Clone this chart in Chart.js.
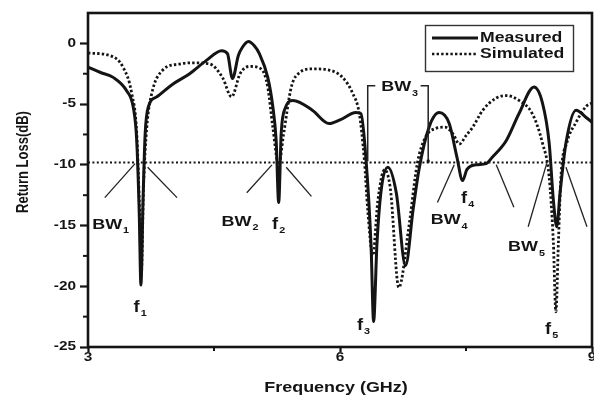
<!DOCTYPE html>
<html><head><meta charset="utf-8">
<script src="https://cdn.jsdelivr.net/npm/chart.js@4/dist/chart.umd.min.js"></script>
<style>html,body{margin:0;padding:0;background:#fff}#wrap{width:594px;height:396px}</style>
</head><body><div id="wrap"><canvas id="c" width="594" height="396"></canvas></div>
<script>
// ---- data ----
const measuredFreq = [3.00,3.15,3.30,3.46,3.54,3.58,3.61,3.63,3.655,3.68,3.72,3.82,4.00,4.21,4.41,4.59,4.66,4.72,4.79,4.84,4.91,4.98,5.04,5.14,5.20,5.24,5.27,5.30,5.35,5.44,5.67,5.87,6.00,6.19,6.25,6.31,6.37,6.40,6.44,6.49,6.57,6.67,6.78,6.87,6.94,7.06,7.18,7.30,7.39,7.46,7.51,7.62,7.74,7.81,7.98,8.13,8.31,8.41,8.49,8.54,8.58,8.62,8.69,8.81,8.93,9.00];
const measuredDb   = [-1.95,-2.4,-2.8,-3.9,-5.3,-8.0,-14,-19.9,-13,-7.5,-5.2,-4.4,-3.4,-2.5,-1.4,-0.6,-0.85,-2.9,-1.0,-0.3,0.15,-0.2,-0.85,-2.8,-5.2,-8.0,-13.1,-7.4,-5.3,-4.7,-5.5,-6.6,-6.3,-5.7,-5.8,-9.6,-16.7,-22.9,-16.5,-12.1,-10.2,-12.3,-18.3,-13.7,-10.4,-6.9,-5.7,-6.6,-9.3,-11.3,-10.4,-10.0,-9.9,-9.4,-8.0,-5.8,-3.6,-4.9,-8.2,-12.9,-15.1,-12.3,-8.2,-5.5,-6.1,-6.5];
const simulatedFreq = [3.00,3.26,3.42,3.52,3.58,3.615,3.635,3.66,3.70,3.76,3.89,4.09,4.25,4.45,4.60,4.71,4.81,4.92,5.06,5.14,5.20,5.27,5.33,5.42,5.52,5.67,5.87,6.03,6.15,6.23,6.29,6.33,6.39,6.45,6.53,6.60,6.70,6.82,6.92,7.02,7.14,7.25,7.35,7.42,7.50,7.58,7.70,7.86,7.98,8.13,8.29,8.41,8.49,8.54,8.57,8.60,8.63,8.70,8.81,8.93,9.00];
const simulatedDb   = [-0.8,-1.0,-2.0,-4.1,-7.4,-14,-19,-12,-6.9,-4.1,-2.2,-1.7,-1.6,-1.7,-2.8,-4.4,-2.5,-1.9,-2.1,-3.6,-6.9,-10.0,-7.4,-3.6,-2.4,-2.1,-2.2,-2.8,-4.1,-5.8,-9.6,-13.7,-17.5,-13.0,-10.4,-12.0,-20.1,-15.1,-9.9,-7.7,-7.0,-6.9,-7.5,-8.3,-7.6,-6.9,-5.5,-4.5,-4.3,-4.7,-5.8,-8.2,-11.0,-16.4,-22.1,-16.4,-11.0,-8.2,-6.5,-5.2,-4.9];
const refLevelDb = -9.8;
const seriesNames = ['Measured', 'Simulated'];
const xTickValues = [3, 6, 9];
const xTickLabels = ['3', '6', '9'];
const xMinorTicks = [4.5, 7.5];
const yTickValues = [0, -5, -10, -15, -20, -25];
const yTickLabels = ['0', '-5', '-10', '-15', '-20', '-25'];
const yMinorTicks = [-2.5, -7.5, -12.5, -17.5, -22.5];
const xTitle = 'Frequency (GHz)';
const yTitle = 'Return Loss(dB)';
// bandwidth pointer lines in data units: [f1, dB1, f2, dB2]
const bwLines = [
  [3.56,-9.9,3.20,-12.7],[3.71,-10.2,4.06,-12.7],
  [5.19,-10.0,4.89,-12.3],[5.36,-10.2,5.66,-12.6],
  [7.36,-10.0,7.16,-13.1],[7.86,-10.0,8.07,-13.5],
  [8.46,-9.9,8.24,-15.1],[8.69,-10.2,8.94,-15.1]
];
// BW3 bracket: left f, right f, top dB, bottom dB, gap f range for label
const bw3Bracket = [6.33, 7.05, -3.5, -9.7, 6.42, 6.96];
// annotation labels: main text, subscript, f, dB (group centre)
const annoText = ['BW','f','BW','f','BW','f','f','BW','BW','f'];
const annoSub  = ['1','1','2','2','3','3','4','4','5','5'];
const annoF    = [3.27,3.62,4.81,5.27,6.71,6.28,7.52,7.30,8.22,8.52];
const annoDb   = [-14.94,-21.75,-14.7,-14.9,-3.63,-23.2,-12.8,-14.55,-16.8,-23.55];

const INK = '#141414';
const FONT = '"Liberation Sans", Arial, sans-serif';
const STRETCH = 1.28;

function drawText(ctx, s, x, y, size, align, stretch) {
  ctx.save();
  ctx.font = 'bold ' + size + 'px ' + FONT;
  ctx.translate(x, y);
  ctx.scale(stretch, 1);
  ctx.textAlign = align;
  ctx.textBaseline = 'middle';
  ctx.fillStyle = INK;
  ctx.fillText(s, 0, 0);
  ctx.restore();
}
function textW(ctx, s, size, stretch) {
  ctx.save();
  ctx.font = 'bold ' + size + 'px ' + FONT;
  const w = ctx.measureText(s).width * stretch;
  ctx.restore();
  return w;
}

const decor = {
  id: 'decor',
  afterDatasetsDraw(chart) {
    const ctx = chart.ctx, xs = chart.scales.x, ys = chart.scales.y, a = chart.chartArea;
    const X = v => xs.getPixelForValue(v), Y = v => ys.getPixelForValue(v);
    ctx.save();
    // frame
    ctx.strokeStyle = INK; ctx.lineWidth = 2.6;
    ctx.strokeRect(a.left, a.top, a.right - a.left, a.bottom - a.top);
    // minor ticks
    ctx.lineWidth = 2;
    xMinorTicks.forEach(v => { ctx.beginPath(); ctx.moveTo(X(v), a.bottom); ctx.lineTo(X(v), a.bottom + 4); ctx.stroke(); });
    yMinorTicks.forEach(v => { ctx.beginPath(); ctx.moveTo(a.left, Y(v)); ctx.lineTo(a.left - 5, Y(v)); ctx.stroke(); });
    // tick labels
    xTickValues.forEach((v, i) => drawText(ctx, xTickLabels[i], X(v), a.bottom + 11, 12, 'center', STRETCH));
    yTickValues.forEach((v, i) => drawText(ctx, yTickLabels[i], a.left - 12, Y(v), 12, 'right', STRETCH));
    // axis titles
    drawText(ctx, xTitle, (a.left + a.right) / 2 - 4, 388, 14, 'center', STRETCH);
    ctx.save();
    ctx.translate(23, 162);
    ctx.scale(STRETCH, 1);
    ctx.rotate(-Math.PI / 2);
    ctx.font = 'bold 13px ' + FONT; ctx.fillStyle = INK;
    ctx.textAlign = 'center'; ctx.textBaseline = 'middle';
    ctx.fillText(yTitle, 0, 0);
    ctx.restore();
    // bandwidth pointer lines
    ctx.strokeStyle = '#222'; ctx.lineWidth = 1.3;
    bwLines.forEach(l => { ctx.beginPath(); ctx.moveTo(X(l[0]), Y(l[1])); ctx.lineTo(X(l[2]), Y(l[3])); ctx.stroke(); });
    // BW3 bracket
    const [bl, br, bt, bb, g1, g2] = bw3Bracket;
    ctx.lineWidth = 1.5;
    ctx.beginPath();
    ctx.moveTo(X(g1), Y(bt)); ctx.lineTo(X(bl), Y(bt)); ctx.lineTo(X(bl), Y(bb));
    ctx.moveTo(X(g2), Y(bt)); ctx.lineTo(X(br), Y(bt)); ctx.lineTo(X(br), Y(bb));
    ctx.stroke();
    ctx.fillStyle = INK;
    ctx.fillRect(X(br) - 1.5, Y(bb) - 1.5, 3, 3);
    // annotation labels
    annoText.forEach((t, i) => {
      const big = t === 'f' ? 16 : 14;
      const st = t === 'f' ? 1.15 : STRETCH;
      const w1 = textW(ctx, t, big, st), w2 = textW(ctx, annoSub[i], 9, 1.2);
      const cx = X(annoF[i]), cy = Y(annoDb[i]);
      const x0 = cx - (w1 + w2 + 1) / 2;
      drawText(ctx, t, x0, cy, big, 'left', st);
      drawText(ctx, annoSub[i], x0 + w1 + 1, cy + 6, 9, 'left', 1.2);
    });
    // legend
    ctx.strokeStyle = '#333'; ctx.lineWidth = 1.4;
    ctx.strokeRect(425.5, 25.5, 148, 46);
    ctx.strokeStyle = INK;
    ctx.lineWidth = 3; ctx.setLineDash([]);
    ctx.beginPath(); ctx.moveTo(432, 38); ctx.lineTo(478, 38); ctx.stroke();
    ctx.lineWidth = 2.6; ctx.setLineDash([2.4, 2.2]);
    ctx.beginPath(); ctx.moveTo(432, 54); ctx.lineTo(478, 54); ctx.stroke();
    ctx.setLineDash([]);
    drawText(ctx, seriesNames[0], 480, 38, 14, 'left', 1.26);
    drawText(ctx, seriesNames[1], 480, 54, 14, 'left', 1.26);
    ctx.restore();
  }
};

const toPts = (xs, ys) => xs.map((x, i) => ({ x: x, y: ys[i] }));

new Chart(document.getElementById('c'), {
  type: 'line',
  data: {
    datasets: [
      { label: 'ref', data: [{ x: 3, y: refLevelDb }, { x: 9, y: refLevelDb }], borderColor: INK, borderWidth: 2, borderDash: [2, 2.4], pointRadius: 0, tension: 0 },
      { label: seriesNames[1], data: toPts(simulatedFreq, simulatedDb), borderColor: INK, borderWidth: 2.8, borderDash: [2.4, 2.2], pointRadius: 0, cubicInterpolationMode: 'monotone' },
      { label: seriesNames[0], data: toPts(measuredFreq, measuredDb), borderColor: INK, borderWidth: 3, pointRadius: 0, cubicInterpolationMode: 'monotone' }
    ]
  },
  options: {
    responsive: false, animation: false, devicePixelRatio: 1,
    layout: { padding: { left: 80, right: 2, top: 13, bottom: 44 } },
    plugins: { legend: { display: false }, tooltip: { enabled: false } },
    scales: {
      x: {
        type: 'linear', min: 3, max: 9,
        ticks: { display: false, stepSize: 3 },
        afterBuildTicks: s => { s.ticks = xTickValues.map(v => ({ value: v })); },
        grid: { display: true, drawOnChartArea: false, drawTicks: true, tickLength: 5, tickWidth: 2.2, tickColor: INK },
        border: { display: false }
      },
      y: {
        type: 'linear', min: -25, max: 2.5,
        ticks: { display: false, stepSize: 5 },
        afterBuildTicks: s => { s.ticks = yTickValues.map(v => ({ value: v })); },
        grid: { display: true, drawOnChartArea: false, drawTicks: true, tickLength: 8, tickWidth: 2.2, tickColor: INK },
        border: { display: false }
      }
    }
  },
  plugins: [decor]
});
</script></body></html>
